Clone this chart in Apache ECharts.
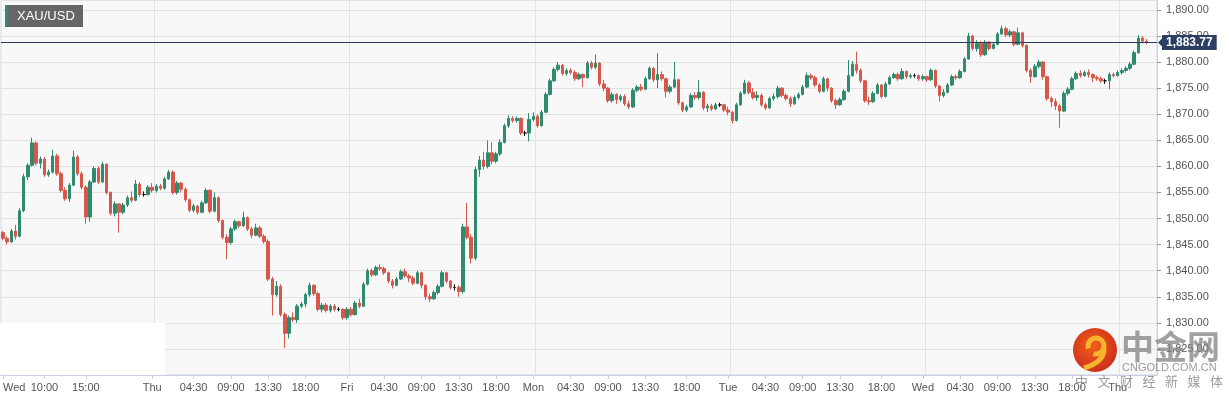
<!DOCTYPE html>
<html><head><meta charset="utf-8">
<script src="https://cdn.jsdelivr.net/npm/echarts@6/dist/echarts.min.js"></script>
<style>html,body{margin:0;padding:0;background:#fff}#c{width:1229px;height:400px}</style>
</head><body><div id="c"></div><script>
const symbolName = 'XAU/USD';
const lastPrice = 1883.77;
const slotCount = 279;
const xTickLabels = [[0,'Wed'],[10,'10:00'],[20,'15:00'],[36,'Thu'],[46,'04:30'],[55,'09:00'],[64,'13:30'],[73,'18:00'],[83,'Fri'],[92,'04:30'],[101,'09:00'],[110,'13:30'],[119,'18:00'],[128,'Mon'],[137,'04:30'],[146,'09:00'],[155,'13:30'],[165,'18:00'],[175,'Tue'],[184,'04:30'],[193,'09:00'],[202,'13:30'],[212,'18:00'],[222,'Wed'],[231,'04:30'],[240,'09:00'],[249,'13:30'],[258,'18:00'],[269,'Thu']];
const dayNames = ['Wed','Thu','Fri','Mon','Tue'];
// [open, close, low, high]
const candles = [
[1847.3,1846.2,1845.8,1847.6],[1846.2,1845.5,1845.0,1846.6],[1845.5,1847.6,1845.3,1848.0],[1847.6,1846.6,1846.0,1848.8],[1846.6,1851.5,1846.4,1852.0],
[1851.5,1858.0,1851.2,1858.6],[1858.0,1860.2,1857.4,1860.6],[1860.2,1864.5,1860.0,1865.5],[1864.5,1860.6,1860.2,1864.8],[1860.6,1861.4,1859.6,1861.9],
[1861.4,1858.4,1858.0,1861.8],[1858.4,1858.9,1858.0,1859.4],[1858.9,1862.0,1858.6,1863.2],[1862.0,1858.6,1858.2,1862.4],[1858.6,1855.4,1855.0,1859.0],
[1855.4,1853.8,1853.4,1856.0],[1853.8,1856.4,1853.2,1856.8],[1856.4,1861.8,1856.2,1863.0],[1861.8,1858.6,1858.2,1862.2],[1858.6,1856.0,1855.6,1859.0],
[1856.0,1850.3,1849.0,1856.4],[1850.3,1857.0,1849.4,1857.4],[1857.0,1859.6,1856.8,1860.0],[1859.6,1857.0,1856.6,1860.0],[1857.0,1860.4,1856.8,1860.9],
[1860.4,1855.0,1854.6,1860.6],[1855.0,1851.0,1850.6,1855.2],[1851.0,1852.8,1850.4,1853.3],[1852.8,1851.2,1847.3,1853.0],[1851.2,1852.6,1850.8,1853.0],
[1852.6,1854.0,1852.2,1854.4],[1854.0,1853.5,1853.1,1855.2],[1853.5,1856.6,1853.3,1857.4],[1856.6,1854.6,1854.2,1857.0],[1854.6,1854.6,1854.2,1855.2],
[1854.6,1856.0,1854.4,1856.4],[1856.0,1855.4,1855.0,1856.8],[1855.4,1856.2,1855.0,1856.6],[1856.2,1855.8,1855.4,1856.6],[1855.8,1857.6,1855.5,1858.0],
[1857.6,1858.9,1857.4,1859.3],[1858.9,1855.0,1854.6,1859.2],[1855.0,1856.8,1854.6,1857.2],[1856.8,1855.6,1855.0,1857.0],[1855.6,1853.6,1853.2,1856.0],
[1853.6,1851.6,1851.2,1853.8],[1851.6,1852.4,1851.2,1852.8],[1852.4,1851.2,1850.8,1852.6],[1851.2,1853.0,1851.0,1853.4],[1853.0,1855.4,1852.8,1855.8],
[1855.4,1851.4,1851.0,1855.6],[1851.4,1854.0,1851.2,1855.0],[1854.0,1849.6,1849.2,1854.2],[1849.6,1846.4,1846.0,1849.8],[1846.4,1845.4,1842.2,1847.0],
[1845.4,1848.0,1845.0,1848.4],[1848.0,1849.4,1847.6,1849.8],[1849.4,1848.6,1848.2,1849.6],[1848.6,1850.2,1848.4,1851.3],[1850.2,1848.0,1847.6,1850.4],
[1848.0,1846.8,1846.2,1848.4],[1846.8,1848.2,1846.6,1849.0],[1848.2,1846.6,1846.2,1848.6],[1846.6,1845.6,1845.2,1847.0],[1845.6,1838.4,1838.0,1846.0],
[1838.4,1835.4,1831.4,1838.8],[1835.4,1837.0,1835.0,1838.0],[1837.0,1831.6,1831.2,1837.4],[1831.6,1828.0,1825.2,1832.0],[1828.0,1831.0,1827.0,1831.4],
[1831.0,1830.6,1830.2,1832.0],[1830.6,1833.2,1830.0,1833.6],[1833.2,1833.6,1832.8,1834.0],[1833.6,1835.4,1833.0,1835.8],[1835.4,1837.2,1835.0,1837.7],
[1837.2,1835.6,1835.2,1837.4],[1835.6,1832.6,1832.2,1836.0],[1832.6,1833.4,1832.0,1833.8],[1833.4,1832.4,1832.0,1833.8],[1832.4,1833.2,1832.0,1833.6],
[1833.2,1832.6,1832.2,1833.6],[1832.6,1832.6,1832.2,1833.0],[1832.6,1831.0,1830.6,1832.8],[1831.0,1832.6,1830.6,1833.0],[1832.6,1831.6,1831.2,1833.0],
[1831.6,1833.8,1831.4,1834.2],[1833.8,1833.2,1832.8,1834.6],[1833.2,1837.4,1833.0,1837.8],[1837.4,1840.0,1837.2,1840.4],[1840.0,1839.2,1838.8,1840.4],
[1839.2,1840.6,1839.0,1841.0],[1840.6,1840.4,1840.0,1841.2],[1840.4,1839.6,1839.2,1840.8],[1839.6,1838.0,1837.6,1839.8],[1838.0,1837.2,1836.6,1838.4],
[1837.2,1838.4,1837.0,1838.8],[1838.4,1839.8,1838.2,1840.2],[1839.8,1839.0,1838.6,1840.4],[1839.0,1838.6,1837.8,1839.4],[1838.6,1837.6,1837.2,1839.0],
[1837.6,1839.6,1837.4,1840.0],[1839.6,1837.2,1836.6,1839.8],[1837.2,1835.0,1834.4,1837.4],[1835.0,1834.6,1834.0,1835.6],[1834.6,1835.8,1834.4,1836.2],
[1835.8,1837.0,1835.4,1837.4],[1837.0,1839.6,1836.8,1840.0],[1839.6,1838.0,1837.6,1839.8],[1838.0,1836.8,1836.4,1838.2],[1836.8,1836.8,1836.2,1837.4],
[1836.8,1836.0,1835.0,1837.2],[1836.0,1848.4,1835.6,1849.0],[1848.4,1846.4,1846.0,1853.0],[1846.4,1842.4,1841.4,1847.0],[1842.4,1859.4,1842.0,1860.0],
[1859.4,1861.2,1858.0,1862.0],[1861.2,1860.0,1859.4,1862.8],[1860.0,1862.6,1859.6,1865.0],[1862.6,1861.0,1860.4,1864.6],[1861.0,1862.4,1860.6,1862.8],
[1862.4,1864.6,1862.0,1865.2],[1864.6,1867.8,1864.4,1868.2],[1867.8,1869.2,1867.4,1869.8],[1869.2,1868.8,1868.4,1869.6],[1868.8,1869.2,1868.4,1869.6],
[1869.2,1866.4,1866.0,1869.4],[1866.4,1866.4,1865.8,1866.8],[1866.4,1869.0,1864.8,1870.2],[1869.0,1869.6,1868.6,1870.4],[1869.6,1867.8,1867.4,1870.0],
[1867.8,1870.4,1867.6,1870.8],[1870.4,1873.8,1870.2,1874.2],[1873.8,1876.4,1873.6,1876.8],[1876.4,1878.6,1876.2,1879.0],[1878.6,1879.4,1878.2,1880.0],
[1879.4,1877.8,1877.4,1879.6],[1877.8,1878.4,1877.4,1878.8],[1878.4,1878.0,1877.6,1878.8],[1878.0,1876.8,1876.4,1878.4],[1876.8,1877.6,1876.6,1878.0],
[1877.6,1877.0,1875.2,1877.8],[1877.0,1879.8,1876.8,1880.2],[1879.8,1879.0,1878.6,1880.2],[1879.0,1879.8,1878.6,1881.4],[1879.8,1875.8,1875.4,1880.0],
[1875.8,1875.0,1874.4,1876.6],[1875.0,1872.6,1872.2,1875.2],[1872.6,1873.8,1872.2,1874.2],[1873.8,1872.8,1872.0,1874.0],[1872.8,1873.4,1872.4,1873.8],
[1873.4,1872.0,1871.6,1873.8],[1872.0,1871.4,1871.0,1872.6],[1871.4,1874.6,1871.2,1875.0],[1874.6,1875.2,1874.2,1875.6],[1875.2,1874.8,1874.4,1875.8],
[1874.8,1876.8,1874.6,1877.2],[1876.8,1878.8,1876.6,1879.2],[1878.8,1876.6,1876.2,1879.0],[1876.6,1877.6,1875.0,1881.7],[1877.6,1876.8,1876.4,1878.2],
[1876.8,1874.4,1873.2,1877.0],[1874.4,1875.2,1874.0,1875.6],[1875.2,1876.6,1875.0,1880.0],[1876.6,1872.2,1871.8,1876.8],[1872.2,1870.8,1870.4,1872.4],
[1870.8,1871.4,1870.4,1871.8],[1871.4,1873.6,1871.2,1874.0],[1873.6,1873.2,1872.8,1874.2],[1873.2,1874.2,1872.8,1876.6],[1874.2,1871.2,1870.8,1874.4],
[1871.2,1871.6,1870.4,1872.0],[1871.6,1871.0,1870.6,1872.0],[1871.0,1871.8,1870.8,1872.2],[1871.8,1871.8,1871.4,1872.2],[1871.8,1870.8,1870.4,1872.0],
[1870.8,1870.4,1869.8,1871.4],[1870.4,1868.8,1868.2,1870.6],[1868.8,1871.8,1868.6,1872.2],[1871.8,1874.0,1871.6,1874.4],[1874.0,1876.0,1873.8,1876.6],
[1876.0,1874.2,1873.8,1876.4],[1874.2,1873.2,1872.8,1875.0],[1873.2,1873.6,1872.6,1874.4],[1873.6,1871.8,1871.4,1874.0],[1871.8,1871.2,1870.8,1872.2],
[1871.2,1873.0,1871.0,1873.4],[1873.0,1873.4,1872.6,1874.0],[1873.4,1875.0,1873.0,1875.4],[1875.0,1873.6,1873.2,1875.2],[1873.6,1873.0,1872.6,1874.0],
[1873.0,1872.0,1871.4,1873.4],[1872.0,1873.2,1871.8,1873.6],[1873.2,1873.8,1872.8,1874.2],[1873.8,1875.2,1873.6,1875.6],[1875.2,1877.4,1875.0,1878.0],
[1877.4,1877.0,1876.6,1877.8],[1877.0,1875.6,1875.2,1877.4],[1875.6,1874.4,1874.0,1876.0],[1874.4,1876.8,1874.2,1877.2],[1876.8,1875.0,1874.4,1877.0],
[1875.0,1872.6,1872.2,1875.2],[1872.6,1871.8,1871.0,1873.0],[1871.8,1872.8,1871.6,1873.2],[1872.8,1874.4,1872.6,1874.8],[1874.4,1877.4,1874.2,1880.4],
[1877.4,1879.6,1877.2,1880.2],[1879.6,1878.4,1877.8,1882.0],[1878.4,1876.4,1876.0,1878.8],[1876.4,1872.6,1872.2,1876.6],[1872.6,1872.4,1871.8,1873.4],
[1872.4,1874.0,1872.2,1874.4],[1874.0,1875.6,1873.8,1876.0],[1875.6,1873.4,1873.0,1875.8],[1873.4,1875.8,1873.2,1876.2],[1875.8,1877.0,1875.6,1877.4],
[1877.0,1877.6,1876.8,1878.0],[1877.6,1876.8,1876.4,1878.0],[1876.8,1878.2,1876.6,1878.8],[1878.2,1877.2,1876.8,1878.4],[1877.2,1877.4,1876.8,1877.8],
[1877.4,1877.4,1877.0,1877.8],[1877.4,1876.8,1876.4,1877.6],[1876.8,1877.2,1876.4,1877.6],[1877.2,1876.6,1876.2,1877.4],[1876.6,1878.4,1876.4,1878.8],
[1878.4,1875.4,1875.0,1878.6],[1875.4,1873.6,1872.4,1875.6],[1873.6,1874.2,1873.2,1874.8],[1874.2,1875.6,1874.0,1876.0],[1875.6,1877.2,1875.4,1877.6],
[1877.2,1877.0,1876.6,1877.6],[1877.0,1878.2,1876.8,1878.6],[1878.2,1880.6,1878.0,1881.0],[1880.6,1885.0,1880.4,1885.6],[1885.0,1882.6,1882.2,1885.2],
[1882.6,1883.6,1882.0,1884.2],[1883.6,1881.4,1881.0,1884.0],[1881.4,1883.8,1881.2,1884.2],[1883.8,1882.6,1882.2,1884.0],[1882.6,1883.4,1882.4,1883.8],
[1883.4,1885.4,1883.2,1885.8],[1885.4,1886.4,1885.2,1887.0],[1886.4,1885.2,1884.8,1886.8],[1885.2,1885.8,1884.8,1886.2],[1885.8,1883.4,1883.0,1886.0],
[1883.4,1885.6,1883.2,1886.6],[1885.6,1883.2,1882.8,1885.8],[1883.2,1878.4,1878.0,1883.4],[1878.4,1877.2,1876.0,1878.8],[1877.2,1879.2,1877.0,1879.6],
[1879.2,1880.0,1878.8,1880.4],[1880.0,1877.2,1876.6,1880.2],[1877.2,1873.0,1872.6,1877.4],[1873.0,1872.4,1871.4,1873.4],[1872.4,1871.6,1870.8,1873.0],
[1871.6,1870.6,1867.4,1872.0],[1870.6,1874.0,1870.4,1874.4],[1874.0,1874.8,1873.6,1875.2],[1874.8,1876.8,1874.6,1877.2],[1876.8,1877.8,1876.6,1878.2],
[1877.8,1877.4,1877.0,1878.4],[1877.4,1878.0,1877.2,1878.4],[1878.0,1877.6,1877.0,1878.6],[1877.6,1877.0,1876.2,1877.8],[1877.0,1876.8,1876.4,1877.4],
[1876.8,1876.4,1876.0,1877.2],[1876.4,1876.4,1875.8,1876.8],[1876.4,1877.6,1874.8,1878.0],[1877.6,1877.4,1877.0,1878.0],[1877.4,1878.0,1877.2,1878.4],
[1878.0,1878.4,1877.6,1878.8],[1878.4,1878.8,1878.0,1879.2],[1878.8,1879.6,1878.4,1880.0],[1879.6,1881.8,1879.4,1882.2],[1881.8,1884.6,1881.6,1885.2],
[1884.6,1884.0,1883.6,1885.0],[1884.0,1883.77,1883.4,1884.4]
];

const upColor = '#2e8b6f', downColor = '#d9574a';
const tickMap = {};
xTickLabels.forEach(([i, t]) => { tickMap[i] = t; });
const daySplits = new Set(xTickLabels.filter(([i, t]) => i > 0 && dayNames.includes(t)).map(([i]) => i + 1));
const categories = Array.from({length: slotCount}, (_, i) => String(i));
const fmt = v => v.toLocaleString('en-US', {minimumFractionDigits: 2, maximumFractionDigits: 2});
const font = 'Liberation Sans, Arial, sans-serif';

const chart = echarts.init(document.getElementById('c'));
const wmChars = ['中','文','财','经','新','媒','体'];
const graphics = [
  {type:'rect', id:'wbox', shape:{x:0,y:323,width:165,height:52}, style:{fill:'#ffffff'}, z:1, silent:true},
  {type:'rect', id:'tbox', shape:{x:5,y:5,width:78,height:22}, style:{fill:'#666666'}, z:50},
  {type:'rect', id:'tstripe', shape:{x:5,y:5,width:3,height:22}, style:{fill:upColor}, z:51},
  {type:'text', id:'ttext', x:17, y:16, style:{text:symbolName, fill:'#fff', font:'13px ' + font, textVerticalAlign:'middle'}, z:52},
  {type:'circle', id:'logo', shape:{cx:1095, cy:350, r:22}, style:{fill:new echarts.graphic.RadialGradient(0.45,0.4,0.7,[{offset:0,color:'#f0601c'},{offset:1,color:'#c8281a'}])}, z:100},
  {type:'arc', id:'logoArc', shape:{cx:1096, cy:346, r:8, startAngle:Math.PI*0.9, endAngle:Math.PI*2.6}, style:{stroke:'#f7b52c', lineWidth:5, fill:null}, z:101},
  {type:'bezierCurve', id:'logoTail', shape:{x1:1104,y1:349,x2:1084,y2:368,cpx1:1104,cpy1:362}, style:{stroke:'#f7b52c', lineWidth:5, fill:null}, z:101},
  {type:'text', id:'wm1', x:1121, y:346, style:{text:'中金网', fill:'rgba(130,130,130,0.75)', font:'bold 33px "Noto Sans CJK SC"', textVerticalAlign:'middle'}, z:100},
  {type:'text', id:'wm2', x:1122, y:368, style:{text:'CNGOLD.COM.CN', fill:'rgba(140,140,140,0.85)', font:'11px ' + font, textVerticalAlign:'middle'}, z:100}
];
wmChars.forEach((ch, k) => graphics.push({type:'text', id:'wc'+k, x:1075 + k*22.5, y:381, style:{text:ch, fill:'rgba(140,140,140,0.85)', font:'13px "Noto Sans CJK SC"', textVerticalAlign:'middle'}, z:100}));

chart.setOption({
  animation: false,
  backgroundColor: '#ffffff',
  grid: {left: 0, right: 72, top: 0, bottom: 25, show: true, backgroundColor: '#f8f8f8', borderColor: '#d3d9ea', borderWidth: 1},
  xAxis: {
    type: 'category', data: categories, boundaryGap: true,
    axisLine: {lineStyle: {color: '#c9d0e4'}},
    axisTick: {show: true, alignWithLabel: true, length: 4, interval: i => tickMap[i] !== undefined, lineStyle: {color: '#c9d0e4'}},
    axisLabel: {interval: i => tickMap[i] !== undefined, formatter: (v, i) => tickMap[i] || '', color: '#555', fontSize: 11, fontFamily: font, margin: 7, alignMinLabel: 'left'},
    splitLine: {show: true, interval: i => daySplits.has(i), lineStyle: {color: '#e3e3e3'}}
  },
  yAxis: {
    type: 'value', position: 'right', min: 1820, max: 1891.9, interval: 5, scale: true,
    axisLine: {show: true, lineStyle: {color: '#c9d0e4'}},
    axisTick: {show: true, length: 4, lineStyle: {color: '#999'}},
    axisLabel: {color: '#555', fontSize: 11, fontFamily: font, margin: 9, formatter: fmt, showMinLabel: false, showMaxLabel: false},
    splitLine: {show: true, lineStyle: {color: '#e3e3e3'}}
  },
  series: [{
    type: 'candlestick', data: candles, barWidth: 3,
    itemStyle: {color: upColor, color0: downColor, borderColor: upColor, borderColor0: downColor, borderColorDoji: '#111', borderWidth: 1},
    markLine: {
      silent: true, symbol: ['none', 'none'],
      lineStyle: {color: '#2a3a57', width: 1, type: 'solid'},
      label: {show: true, position: 'end', distance: 5, formatter: () => fmt(lastPrice), color: '#fff', fontWeight: 'bold', fontSize: 12, fontFamily: font, backgroundColor: '#2b3f62', padding: [2, 4, 1, 4]},
      data: [{yAxis: lastPrice}]
    }
  }],
  graphic: graphics
});

const py = chart.convertToPixel({yAxisIndex: 0}, lastPrice);
chart.setOption({graphic: [{type:'polygon', id:'arrow', shape:{points:[[1158, py],[1163, py-5],[1163, py+5]]}, style:{fill:'#2b3f62'}, z:60}]});
</script></body></html>
